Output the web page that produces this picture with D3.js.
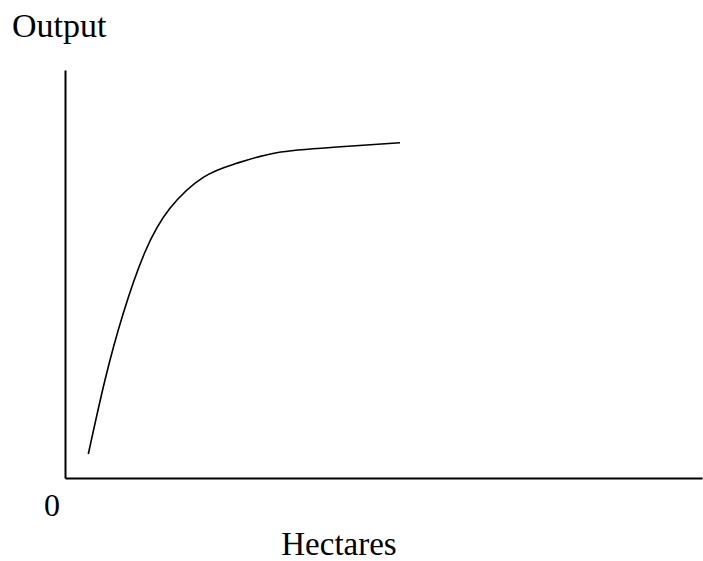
<!DOCTYPE html>
<html>
<head>
<meta charset="utf-8">
<script src="https://cdn.jsdelivr.net/npm/d3@7/dist/d3.min.js"></script>
<style>
  html, body { margin: 0; padding: 0; background: #fff; }
  svg { display: block; }
  text { font-family: "Liberation Serif", "Times New Roman", serif; fill: #000; }
</style>
</head>
<body>
<svg id="chart" width="703" height="561"></svg>
<script>
// Data (arbitrary units: hectares vs output)
const hectares = [3.66, 6.28, 9.15, 12.56, 16.48, 21.71, 26.95, 33.23, 42.12, 52.59];
const output   = [5.88, 24.02, 40.37, 55.39, 66.10, 73.70, 77.13, 79.73, 81.05, 82.18];
const xLabel = "Hectares";
const yLabel = "Output";
const originLabel = "0";

const svg = d3.select("#chart");
const x = d3.scaleLinear().domain([0, 100]).range([65, 702]);
const y = d3.scaleLinear().domain([0, 100]).range([478, 70]);

// Axes (no ticks)
svg.append("g")
  .attr("transform", `translate(0,${y(0)})`)
  .call(d3.axisBottom(x).ticks(0).tickSizeOuter(0))
  .call(g => g.select(".domain").attr("stroke", "#000").attr("stroke-width", 2));
svg.append("g")
  .attr("transform", `translate(${x(0)},0)`)
  .call(d3.axisLeft(y).ticks(0).tickSizeOuter(0))
  .call(g => g.select(".domain").attr("stroke", "#000").attr("stroke-width", 2));

const pts = hectares.map((h, i) => [h, output[i]]);
const line = d3.line().x(d => x(d[0])).y(d => y(d[1])).curve(d3.curveNatural);
svg.append("path")
  .attr("d", line(pts))
  .attr("fill", "none")
  .attr("stroke", "#000")
  .attr("stroke-width", 1.6);

svg.append("text").attr("x", 12).attr("y", 37).attr("font-size", 34).text(yLabel);
svg.append("text").attr("x", 44).attr("y", 516).attr("font-size", 32).text(originLabel);
svg.append("text").attr("x", 339).attr("y", 555).attr("font-size", 33).attr("text-anchor", "middle").text(xLabel);
</script>
</body>
</html>
